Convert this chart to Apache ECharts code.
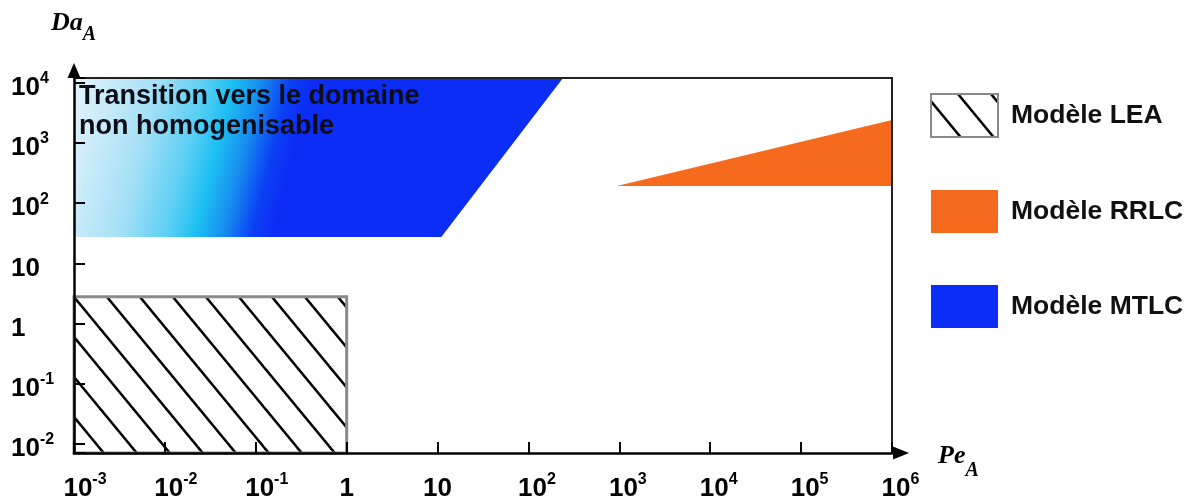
<!DOCTYPE html>
<html><head><meta charset="utf-8">
<script src="https://cdn.jsdelivr.net/npm/echarts@6/dist/echarts.min.js"></script>
<style>html,body{margin:0;padding:0;background:#fff}#c{width:1195px;height:504px}</style>
</head><body><div id="c"></div>
<script>
// ---- data ----
const PE_RANGE = [1e-3, 1e6];          // x axis (Pe_A) extent
const DA_RANGE = [7.1e-3, 1.2e4];      // y axis (Da_A) extent
// LEA model domain (hatched rectangle)
const LEA_PE = [1e-3, 1, 1, 1e-3];
const LEA_DA = [7.1e-3, 7.1e-3, 2.8, 2.8];
// MTLC model domain (blue polygon)
const MTLC_PE = [1e-3, 11, 240, 1e-3];
const MTLC_DA = [27.5, 27.5, 1.2e4, 1.2e4];
// RRLC model domain (orange triangle)
const RRLC_PE = [940, 1e6, 1e6];
const RRLC_DA = [193, 193, 2400];
const SERIES_NAMES = ['Modèle LEA', 'Modèle RRLC', 'Modèle MTLC'];
const NOTE_LINES = ['Transition vers le domaine', 'non homogenisable'];
const X_NAME = ['Pe', 'A'];
const Y_NAME = ['Da', 'A'];

const FONT = '"Liberation Sans", Arial, Helvetica, sans-serif';
const SERIF = '"Liberation Serif", "Times New Roman", serif';

function makeHatch() {
  const W = 33, H = 40;
  const c = document.createElement('canvas'); c.width = W; c.height = H;
  const g = c.getContext('2d');
  g.fillStyle = '#fff'; g.fillRect(0, 0, W, H);
  g.strokeStyle = '#000'; g.lineWidth = 2.5;
  for (const o of [-66, -33, 0, 33]) {
    g.beginPath(); g.moveTo(27 + o - W, -H); g.lineTo(27 + o + 2 * W, 2 * H); g.stroke();
  }
  return c;
}
const hatch = { image: makeHatch(), repeat: 'repeat' };

function powLabel(v, xAxis) {
  const l = Math.log10(v);
  const e = Math.round(l);
  if (Math.abs(l - e) > 0.01) return '';
  if (e === 0) return '{n|1}';
  if (e === 1) return '{n|10}';
  const pad = xAxis ? (e < 0 ? '{pa| }' : '{pb| }') : '';
  return pad + '{n|10}{s|' + e + '}';
}
const tickRich = {
  n: { fontSize: 26, fontWeight: 'bold', fontFamily: FONT, color: '#000', lineHeight: 30, verticalAlign: 'bottom' },
  s: { fontSize: 16, fontWeight: 'bold', fontFamily: FONT, color: '#000', lineHeight: 16, verticalAlign: 'top' },
  pa: { width: 22, fontSize: 10 },
  pb: { width: 17, fontSize: 10 }
};
const nameRich = (total) => ({
  i: { fontSize: 26, fontWeight: 'bold', fontStyle: 'italic', fontFamily: SERIF, color: '#000', lineHeight: 26, verticalAlign: 'top' },
  u: { fontSize: 20, fontWeight: 'bold', fontStyle: 'italic', fontFamily: SERIF, color: '#000', lineHeight: 20, verticalAlign: 'bottom' },
  z: { lineHeight: total, fontSize: 4 }
});

function polySeries(name, pe, da, fill, extra, itemStyle) {
  const pts = pe.map((v, i) => [v, da[i]]);
  return {
    type: 'custom', name, data: pts, silent: true, itemStyle,
    renderItem(params, api) {
      if (params.dataIndex !== 0) return null;
      return {
        type: 'polygon',
        shape: { points: pts.map(p => api.coord(p)) },
        style: Object.assign({ fill }, extra)
      };
    }
  };
}

const mtlcGradient = new echarts.graphic.LinearGradient(0, 0.3, 0.46, 0.65, [
  { offset: 0, color: '#dcf1fa' },
  { offset: 0.3, color: '#a5e0f6' },
  { offset: 0.5, color: '#5ccff4' },
  { offset: 0.62, color: '#1ec0f3' },
  { offset: 0.74, color: '#168cef' },
  { offset: 0.86, color: '#0b3ff5' },
  { offset: 0.95, color: '#0b2df5' },
  { offset: 1, color: '#0b2df5' }
]);

const chart = echarts.init(document.getElementById('c'), null, { renderer: 'canvas' });
chart.setOption({
  animation: false,
  backgroundColor: '#fff',
  grid: { left: 74, right: 303, top: 78, bottom: 51, containLabel: false },
  xAxis: [{
    type: 'log', logBase: 10, min: PE_RANGE[0], max: PE_RANGE[1], splitNumber: 9, z: 10,
    name: '{i|' + X_NAME[0] + '}{u|' + X_NAME[1] + '}{z| }',
    nameLocation: 'end', nameGap: 46,
    nameTextStyle: { rich: nameRich(37), padding: [18, 0, 0, 0] },
    axisLine: { show: true, lineStyle: { color: '#000', width: 2.5 }, symbol: ['none', 'triangle'], symbolSize: [13, 16], symbolOffset: [0, 9] },
    axisTick: { show: true, inside: true, length: 11, lineStyle: { color: '#000', width: 2 } },
    axisLabel: { margin: 19, formatter: v => powLabel(v, true), rich: tickRich },
    splitLine: { show: false }, minorTick: { show: false }
  }, {
    type: 'log', logBase: 10, min: PE_RANGE[0], max: PE_RANGE[1], position: 'top', z: 9,
    axisLine: { show: true, lineStyle: { color: '#222', width: 2 } },
    axisTick: { show: false }, axisLabel: { show: false }, splitLine: { show: false }
  }],
  yAxis: [{
    type: 'log', logBase: 10, min: DA_RANGE[0], max: DA_RANGE[1], splitNumber: 6, z: 10,
    name: '{i|' + Y_NAME[0] + '}{u|' + Y_NAME[1] + '}{z| }',
    nameLocation: 'end', nameGap: 33,
    nameTextStyle: { rich: nameRich(35) },
    axisLine: { show: true, lineStyle: { color: '#000', width: 2.5 }, symbol: ['none', 'triangle'], symbolSize: [13, 15], symbolOffset: [0, 7.5] },
    axisTick: { show: true, inside: true, length: 11, lineStyle: { color: '#000', width: 2 } },
    axisLabel: { margin: 63, align: 'left', formatter: v => powLabel(v, false), rich: tickRich, padding: [6, 0, 0, 0] },
    splitLine: { show: false }, minorTick: { show: false }
  }, {
    type: 'log', logBase: 10, min: DA_RANGE[0], max: DA_RANGE[1], position: 'right', z: 9,
    axisLine: { show: true, lineStyle: { color: '#222', width: 2 } },
    axisTick: { show: false }, axisLabel: { show: false }, splitLine: { show: false }
  }],
  legend: {
    orient: 'vertical', left: 930, top: 93, padding: 0, itemWidth: 67, itemHeight: 43, itemGap: 52,
    icon: 'rect', selectedMode: false, data: SERIES_NAMES,
    textStyle: { fontSize: 26.5, fontWeight: 'bold', color: '#111', fontFamily: FONT, padding: [0, 0, 0, 8] }
  },
  graphic: [{
    type: 'text', left: 79, top: 82, z: 100, silent: true,
    style: { text: NOTE_LINES.join('\n'), fontSize: 27, fontWeight: 'bold', fontFamily: FONT, fill: '#0d0d18', lineHeight: 30 }
  }],
  series: [
    polySeries(SERIES_NAMES[0], LEA_PE, LEA_DA, hatch, { stroke: '#8a8a8a', lineWidth: 3 },
      { color: hatch, borderColor: '#8a8a8a', borderWidth: 2 }),
    polySeries(SERIES_NAMES[1], RRLC_PE, RRLC_DA, '#f56a1c', {}, { color: '#f56a1c' }),
    polySeries(SERIES_NAMES[2], MTLC_PE, MTLC_DA, mtlcGradient, {}, { color: '#0b2df5' })
  ]
});
</script>
</body></html>
